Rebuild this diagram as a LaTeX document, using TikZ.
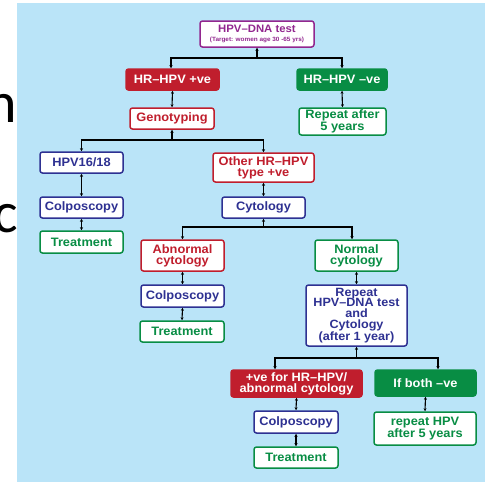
\documentclass[tikz,border=0pt]{standalone}
\usepackage{fontspec}
\setmainfont{Liberation Sans}[FakeStretch=1.05]
\newfontfamily\slidefont{Carlito}
\usetikzlibrary{arrows.meta}
\definecolor{bgblue}{RGB}{186,228,248}
\definecolor{hpurple}{RGB}{146,39,143}
\definecolor{hred}{RGB}{192,30,45}
\definecolor{hgreen}{RGB}{8,141,68}
\definecolor{hblue}{RGB}{46,49,146}
\tikzset{
  box/.style={draw, line width=1.5pt, rounded corners=2.5pt, fill=white, align=center,
    inner sep=0pt, font=\bfseries\fontsize{12.2}{10.9}\selectfont},
  redline/.style={box, draw=hred, text=hred},
  greenline/.style={box, draw=hgreen, text=hgreen},
  blueline/.style={box, draw=hblue, text=hblue},
  redfill/.style={box, draw=hred, fill=hred, text=white},
  greenfill/.style={box, draw=hgreen, fill=hgreen, text=white},
  conn/.style={line width=1.1pt, black},
  both/.style={conn, {Stealth[length=3pt,width=3pt]}-{Stealth[length=3pt,width=3pt]}},
  down/.style={conn, -{Stealth[length=3pt,width=3pt]}},
  up/.style={conn, -{Stealth[length=3pt,width=3pt]}},
  slide/.style={anchor=base east, inner sep=0pt, text=black, font=\slidefont\fontsize{58}{58}\selectfont}
}
\begin{document}
\begin{tikzpicture}[x=1pt,y=-1pt]
\useasboundingbox (0,0) rectangle (485,482);
\node[slide] (ln) at (17.5,122) {n};
\node[slide] (lc) at (18,232) {c};
\fill[bgblue] (17.3,3.3) rectangle (485,482);

\node[box, draw=hpurple, text=hpurple, minimum width=114, minimum height=26] (top) at (257,34)
  {{\fontsize{10.8}{9}\selectfont HPV–DNA test}\\[-2.5pt]{\fontsize{6.1}{6.5}\selectfont (Target: women age 30 -65 yrs)}};
\node[redfill, minimum width=93, minimum height=21] (pos) at (172.5,79.5) {HR–HPV +ve};
\node[greenfill, minimum width=90, minimum height=21] (neg) at (342,79.5) {HR–HPV –ve};
\node[redline, minimum width=84, minimum height=21] (geno) at (172,118.5) {Genotyping};
\node[greenline, minimum width=87, minimum height=27] (rep5) at (342.5,121.5) {Repeat after\\5 years};
\node[blueline, minimum width=83, minimum height=21] (h1618) at (81.5,162.5) {HPV16/18};
\node[redline, minimum width=101, minimum height=29] (other) at (263.5,167.5) {Other HR–HPV\\type +ve};
\node[blueline, minimum width=83, minimum height=21] (colpo1) at (81.5,207.5) {Colposcopy};
\node[blueline, minimum width=83, minimum height=21] (cyto) at (263.5,207.5) {Cytology};
\node[greenline, minimum width=83, minimum height=22] (treat1) at (81.5,242) {Treatment};
\node[redline, minimum width=83, minimum height=31] (abn) at (182.5,255.5) {Abnormal\\cytology};
\node[greenline, minimum width=83, minimum height=31] (norm) at (356.5,255.5) {Normal\\cytology};
\node[blueline, minimum width=83, minimum height=22] (colpo2) at (182.5,296) {Colposcopy};
\node[blueline, minimum width=101, minimum height=61, font=\bfseries\fontsize{12}{10.8}\selectfont] (repeat) at (356.5,315.5)
  {Repeat\\HPV–DNA test\\and\\Cytology\\(after 1 year)};
\node[greenline, minimum width=84, minimum height=21] (treat2) at (182,331.5) {Treatment};
\node[redfill, minimum width=131, minimum height=27] (posve) at (296.5,383.5) {+ve for HR–HPV/\\abnormal cytology};
\node[greenfill, minimum width=101, minimum height=26] (bothneg) at (425.5,383) {If both –ve};
\node[blueline, minimum width=84, minimum height=22] (colpo3) at (296,422) {Colposcopy};
\node[greenline, minimum width=102, minimum height=33] (rep5b) at (425,428.5) {repeat HPV\\after 5 years};
\node[greenline, minimum width=84, minimum height=21] (treat3) at (296,457.5) {Treatment};

% branches
\coordinate (j1) at (257,58);
\draw[up] (j1) -- (top.south);
\draw[down] (j1) -| ([xshift=-1.5]pos.north);
\draw[down] (j1) -| (neg.north);

\coordinate (j2) at (172,140);
\draw[up] (j2) -- (geno.south);
\draw[down] (j2) -| (h1618.north);
\draw[down] (j2) -| (other.north);

\coordinate (j3) at (263.5,227);
\draw[up] (j3) -- (cyto.south);
\draw[down] (j3) -| (abn.north);
\draw[down] (j3) -| ([xshift=-4.5]norm.north);

\coordinate (j4) at (356.5,358);
\draw[up] (j4) -- (repeat.south);
\draw[down] (j4) -| ([xshift=-21.5]posve.north);
\draw[down] (j4) -| ([xshift=12.5]bothneg.north);

% verticals
\draw[both] (pos.south) -- (geno.north);
\draw[both] (neg.south) -- (rep5.north);
\draw[both] (h1618.south) -- (colpo1.north);
\draw[both] (colpo1.south) -- (treat1.north);
\draw[both] (other.south) -- (cyto.north);
\draw[both] (abn.south) -- (colpo2.north);
\draw[both] (colpo2.south) -- (treat2.north);
\draw[both] (norm.south) -- (repeat.north);
\draw[both] (posve.south) -- (colpo3.north);
\draw[both] (colpo3.south) -- (treat3.north);
\draw[both] (bothneg.south) -- (rep5b.north);
\end{tikzpicture}
\end{document}
